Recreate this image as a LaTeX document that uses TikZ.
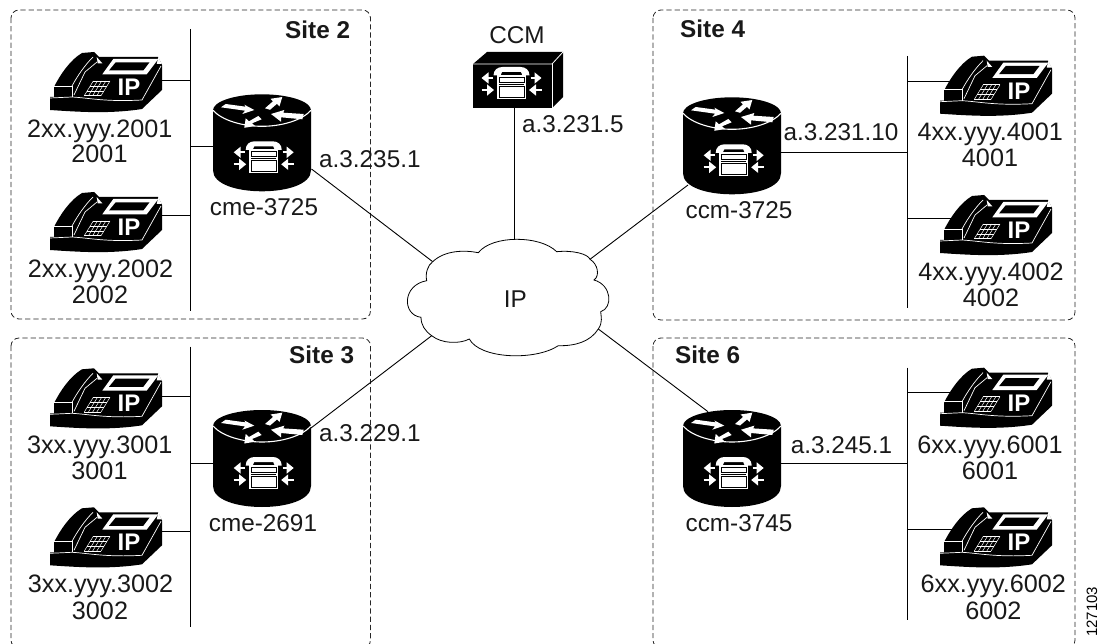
\documentclass[tikz,border=0pt]{standalone}
\usepackage{fontspec}
\setmainfont{Liberation Sans}
\usetikzlibrary{arrows.meta}
\tikzset{
  x=1pt,y=-1pt,
  lbl/.style={inner sep=0pt,anchor=base,font=\fontsize{24.3}{24}\selectfont,text=black!90},
  extlbl/.style={lbl,font=\fontsize{25.2}{24}\selectfont},
  lblw/.style={lbl,anchor=base west},
  sitelbl/.style={lbl,anchor=base west,font=\fontsize{24.3}{24}\selectfont\bfseries},
  sitebox/.style={draw=black!85,line width=0.8pt,dash pattern=on 5.2pt off 3pt,rounded corners=8pt},
  wire/.style={draw=black,line width=0.9pt},
  bar/.style={draw=black,line width=1pt},
  whitearrow/.style={white,line width=1.6pt,-{Triangle[length=7pt,width=11pt]}},
  whitebit/.style={white,line width=0.7pt},
  phone/.pic={
    \fill[black] (50,97) -- (54,97) -- (54,87) .. controls (60,75) and (70,60) .. (82,53) -- (94,52) -- (99,57)
      -- (158,57) -- (162,65) -- (162,90) -- (142,109) .. controls (110,114) and (80,112) .. (50,110) -- cycle;
    \draw[whitebit] (50,98) -- (72,97) .. controls (90,98) and (105,102) .. (142,100) -- (161,66);
    \draw[whitebit] (54,86) -- (72,86) -- (72,97);
    \draw[whitebit] (72,86) .. controls (78,75) and (85,65) .. (93,57);
    \draw[whitebit] (74,95) -- (85,72) -- (97,62);
    \fill[white] (96.7,57) -- (102.3,63.3) -- (97.7,63.3) -- cycle;
    \fill[white] (158.3,57) -- (161.7,64) -- (156.7,64) -- cycle;
    \fill[white] (102.3,74.3) -- (113.3,59) -- (158.3,59) -- (146.7,74.3) -- cycle;
    \fill[black] (109,70.5) -- (115.7,62.3) -- (149.5,62.3) -- (143.3,70.5) -- cycle;
    \foreach \i in {0,...,4} \draw[white,line width=0.5pt] (84.3+\i*4.175,95.7) -- (93.3+\i*4.175,81);
    \foreach \j in {0,...,3} \draw[white,line width=0.5pt] (84.3+\j*3,95.7-\j*4.9) -- (101+\j*3,95.7-\j*4.9);
    \node[lbl,text=white,font=\fontsize{24}{24}\selectfont\bfseries] (ip) at (129,95.5) {IP};
  },
  callicon/.pic={
    \fill[white] (-18,-10.5) .. controls (-18,-16) and (-14,-19) .. (-9,-19) -- (9,-19)
      .. controls (14,-19) and (18,-16) .. (18,-10.5) -- (11,-10.5) -- (9.5,-14) -- (-9.5,-14) -- (-11,-10.5) -- cycle;
    \fill[white] (-14.5,-11) rectangle (14.5,13);
    \draw[black,line width=0.6pt] (-12.5,-8.5) rectangle (12.5,-4);
    \draw[black,line width=0.6pt] (-12.5,-1.5) -- (12.5,-1.5);
    \draw[black,line width=0.6pt] (-12.5,0.5) rectangle (12.5,11);
    \draw[whitearrow] (-19,-8) -- (-30,-8);
    \draw[whitearrow] (-30,4) -- (-17.5,4);
    \draw[whitearrow] (19,-8) -- (30,-8);
    \draw[whitearrow] (30,4) -- (17.5,4);
  },
  router/.pic={
    \fill[black] (-49,16) arc[start angle=180,end angle=0,x radius=49,y radius=-16]
       -- (49,76) .. controls (49,90) and (25,97) .. (0,97) .. controls (-25,97) and (-49,90) .. (-49,76) -- cycle;
    \draw[white,line width=1.1pt] (-49,16) .. controls (-40,26) and (-20,32) .. (0,32) .. controls (20,32) and (40,26) .. (49,16);
    \fill[white] (-41,13) -- (-36.3,9.7) -- (-16.3,12.4) -- (-17.7,10.4) -- (-7.7,15.7) -- (-19.7,19.7) -- (-17,16.4) -- cycle;
    \fill[white] (3,14) -- (11,7) -- (8.5,4.5) -- (20.3,2.7) -- (17.5,12) -- (15,9.5) -- (8,15.5) -- cycle;
    \fill[white] (40.3,25) -- (41.7,19.7) -- (21.3,18.4) -- (22.3,15.7) -- (9,19.7) -- (19,27.4) -- (19,23) -- cycle;
    \fill[white] (-3.7,21.7) -- (-13,27) -- (-16.3,24) -- (-17.7,33.5) -- (-7,31.7) -- (-10,29) -- (-0.3,25) -- cycle;
    \pic at (1.7,66) {callicon};
  },
}
\begin{document}
\begin{tikzpicture}
\useasboundingbox (0,0) rectangle (1105,644);
\clip (0,0) rectangle (1105,644);

% site frames
\draw[sitebox] (11,10) rectangle (370.5,319);
\draw[sitebox] (11,338) rectangle (370.5,648);
\draw[sitebox] (653,10) rectangle (1075,320);
\draw[sitebox] (653,338) rectangle (1075,648);

% ports
\coordinate (r2p) at (311.5,169);
\coordinate (r3p) at (311,428);
\coordinate (r4p) at (688,185);
\coordinate (r6p) at (708,411.7);
\coordinate (ccmp) at (514,108);
\coordinate (ctop) at (514,239.5);
\coordinate (cL) at (432.7,261.7);
\coordinate (cI) at (431.7,335.7);
\coordinate (cC) at (590,259.3);
\coordinate (cF) at (598.3,329);

\draw[wire] (r2p) -- (cL);
\draw[wire] (r3p) -- (cI);
\draw[wire] (r4p) -- (cC);
\draw[wire] (r6p) -- (cF);
\draw[wire] (ccmp) -- (ctop);

% LAN bars
\coordinate (b2t) at (190.7,29); \coordinate (b2b) at (190.7,311);
\coordinate (b3t) at (190.7,346.7); \coordinate (b3b) at (190.7,626.7);
\coordinate (b4t) at (907,56); \coordinate (b4b) at (907,308);
\coordinate (b6t) at (907,367.7); \coordinate (b6b) at (907,620);
\draw[bar] (b2t) -- (b2b);
\draw[bar] (b3t) -- (b3b);
\draw[bar] (b4t) -- (b4b);
\draw[bar] (b6t) -- (b6b);

% branches
\coordinate (b2a) at (190.7,80); \coordinate (p2ac) at (160,80);
\coordinate (b2r) at (190.7,146.7); \coordinate (r2c) at (215,146.7);
\coordinate (b2c) at (190.7,215); \coordinate (p2bc) at (160,215);
\coordinate (b3a) at (190.7,396); \coordinate (p3ac) at (160,396);
\coordinate (b3r) at (190.7,463.3); \coordinate (r3c) at (215,463.3);
\coordinate (b3c) at (190.7,531); \coordinate (p3bc) at (160,531);
\coordinate (b4a) at (907,81); \coordinate (p4ac) at (950,81);
\coordinate (b4r) at (907,152.7); \coordinate (r4c) at (778,152.7);
\coordinate (b4c) at (907,218); \coordinate (p4bc) at (954,218);
\coordinate (b6a) at (907,392.7); \coordinate (p6ac) at (950,392.7);
\coordinate (b6r) at (907,463.3); \coordinate (r6c) at (778,463.3);
\coordinate (b6c) at (907,529.3); \coordinate (p6bc) at (952,529.3);
\foreach \a/\b in {b2a/p2ac,b2r/r2c,b2c/p2bc,b3a/p3ac,b3r/r3c,b3c/p3bc,b4a/p4ac,b4r/r4c,b4c/p4bc,b6a/p6ac,b6r/r6c,b6c/p6bc}
  \draw[wire] (\a) -- (\b);

% cloud
\draw[draw=black,fill=white,line width=0.8pt]
  (478.3,252.7) .. controls (492,235) and (540,235) .. (556.7,251.7)
  .. controls (573,250) and (588,254) .. (590,259.3)
  .. controls (598,264) and (600,276) .. (594,280)
  .. controls (612,285) and (613,308) .. (600.7,311.7)
  .. controls (601,317) and (603,322) .. (598.3,329)
  .. controls (590,342) and (575,346) .. (558.3,345.7)
  .. controls (535,361) and (480,359) .. (469.3,339)
  .. controls (460,344) and (442,344) .. (431.7,335.7)
  .. controls (425,331) and (421,325) .. (421,317.3)
  .. controls (402,315) and (402,285) .. (426.7,280.7)
  .. controls (425,273) and (428,265) .. (432.7,261.7)
  .. controls (445,250) and (465,250) .. (478.3,252.7) -- cycle;
\node[lbl] (cloudlbl) at (515.3,307) {IP};

% CCM
\fill[black] (473,64) -- (487,52) -- (563,52) -- (563,97) -- (552,108) -- (473,108) -- cycle;
\draw[white,line width=0.8pt] (473,64) -- (552,64) -- (563,52);
\draw[white,line width=0.8pt] (552,64) -- (552,108);
\pic (ccmicon) at (511.5,86) {callicon};
\node[lbl] (ccmlbl) at (517,43.3) {CCM};

% routers
\pic (r2) at (262,94.3) {router};
\pic (r3) at (262,410) {router};
\pic (r4) at (732,97.3) {router};
\pic (r6) at (732,410) {router};

% phones
\pic (p2a) at (0,0) {phone};
\pic (p2b) at (0,140) {phone};
\pic (p3a) at (0,316.3) {phone};
\pic (p3b) at (0,455.3) {phone};
\pic (p4a) at (890,3.7) {phone};
\pic (p4b) at (890,143) {phone};
\pic (p6a) at (890,315.7) {phone};
\pic (p6b) at (890,455.3) {phone};

% labels
\node[extlbl] (l2a1) at (99.7,137.7) {2xx.yyy.2001};
\node[extlbl] (l2a2) at (99.5,163) {2001};
\node[extlbl] (l2b1) at (100.5,277.7) {2xx.yyy.2002};
\node[extlbl] (l2b2) at (100,303.3) {2002};
\node[extlbl] (l3a1) at (99.7,453.3) {3xx.yyy.3001};
\node[extlbl] (l3a2) at (99.5,479.3) {3001};
\node[extlbl] (l3b1) at (100.5,592.7) {3xx.yyy.3002};
\node[extlbl] (l3b2) at (100,619.3) {3002};
\node[extlbl] (l4a1) at (990.3,141) {4xx.yyy.4001};
\node[extlbl] (l4a2) at (990,166.7) {4001};
\node[extlbl] (l4b1) at (991,280.7) {4xx.yyy.4002};
\node[extlbl] (l4b2) at (991,306.7) {4002};
\node[extlbl] (l6a1) at (990,453.3) {6xx.yyy.6001};
\node[extlbl] (l6a2) at (990,479.3) {6001};
\node[extlbl] (l6b1) at (993.3,592.7) {6xx.yyy.6002};
\node[extlbl] (l6b2) at (993.3,619.3) {6002};
\node[lbl] (n2) at (264,216) {cme-3725};
\node[lbl] (n3) at (263,531.7) {cme-2691};
\node[lbl] (n4) at (739,219) {ccm-3725};
\node[lbl] (n6) at (739,531.7) {ccm-3745};
\node[lblw] (a2) at (319,168) {a.3.235.1};
\node[lblw] (a3) at (319,441.7) {a.3.229.1};
\node[lblw] (a4) at (783.3,141) {a.3.231.10};
\node[lblw] (a6) at (790.7,453.3) {a.3.245.1};
\node[lblw] (accm) at (522,133) {a.3.231.5};
\node[sitelbl] (s2) at (285,38.3) {Site 2};
\node[sitelbl] (s3) at (289,363) {Site 3};
\node[sitelbl] (s4) at (680,37.7) {Site 4};
\node[sitelbl] (s6) at (675,363.3) {Site 6};
\node[inner sep=0pt,rotate=90,anchor=base,font=\fontsize{15}{15}\selectfont] (fig) at (1097,611.7) {127103};
\end{tikzpicture}
\end{document}
